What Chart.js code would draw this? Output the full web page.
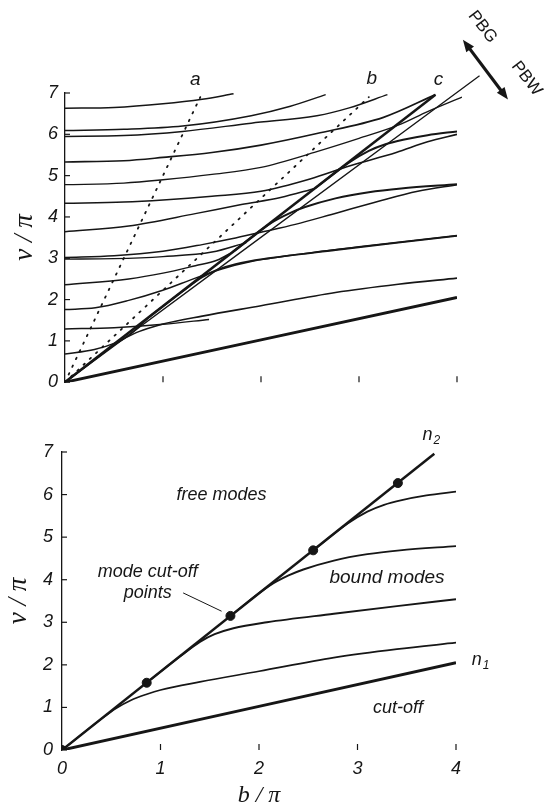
<!DOCTYPE html>
<html>
<head>
<meta charset="utf-8">
<script src="https://cdn.jsdelivr.net/npm/chart.js@4.4.0/dist/chart.umd.min.js"></script>
<style>
  html, body { margin: 0; padding: 0; background: #fff; }
  #wrap { position: relative; width: 545px; height: 810px; }
  #topChart { position: absolute; left: 0; top: 0; }
  #bottomChart { position: absolute; left: 0; top: 400px; }
</style>
</head>
<body>
<div id="wrap">
  <canvas id="topChart" width="545" height="400"></canvas>
  <canvas id="bottomChart" width="545" height="410"></canvas>
</div>
<script>
(function () {
  // === Data (b/pi on x, v/pi on y) ===
  const xTicks = [0, 1, 2, 3, 4];
  const yTicks = [0, 1, 2, 3, 4, 5, 6, 7];

  // guide c: n1 and n2 lines, PBG/PBW boundary, dotted n2 lines of guides a and b
  const n1Line = [[0, 0], [4, 2.05]];
  const n2Line = [[0, 0], [3.78, 6.96]];
  const pbgLine = [[0, 0], [4.23, 7.42]];
  const dotA = [[0, 0], [1.38, 6.9]];
  const dotB = [[0, 0], [3.1, 6.9]];

  // bound modes of guide c
  const mode1 = [[0, 0], [0.4, 0.73], [0.55, 0.98], [0.7, 1.17], [0.86, 1.31], [1.0, 1.41], [1.4, 1.6], [2.0, 1.85], [2.76, 2.17], [3.4, 2.37], [4, 2.52]];
  const mode2 = [[0.86, 1.58], [1.2, 2.2], [1.4, 2.54], [1.55, 2.72], [1.74, 2.86], [2.08, 3.0], [2.76, 3.2], [3.4, 3.38], [4, 3.54]];
  const mode3 = [[1.71, 3.15], [2.1, 3.85], [2.3, 4.1], [2.45, 4.24], [2.76, 4.45], [3.1, 4.6], [3.43, 4.69], [4, 4.79]];
  const mode4 = [[2.55, 4.69], [2.9, 5.32], [3.1, 5.6], [3.27, 5.76], [3.45, 5.87], [3.7, 5.98], [4, 6.07]];
  const cutOffPts = [[0, 0], [0.86, 1.58], [1.71, 3.15], [2.55, 4.69], [3.41, 6.27]];

  // extra curves of the upper plot
  const T1 = [[0, 6.63], [0.5, 6.65], [1.0, 6.74], [1.4, 6.85], [1.72, 6.98]];
  const T2 = [[0, 6.09], [0.6, 6.12], [1.2, 6.2], [1.9, 6.45], [2.3, 6.68], [2.66, 6.96]];
  const T3 = [[0, 5.95], [0.6, 5.97], [1.2, 6.07], [1.9, 6.27], [2.57, 6.45], [2.9, 6.64], [3.29, 6.96]];
  const J5 = [[0, 5.33], [0.6, 5.36], [1.0, 5.44], [1.5, 5.56], [2.0, 5.74], [2.57, 6.02], [3.25, 6.41], [3.78, 6.96]];
  const J4 = [[0, 4.78], [0.6, 4.82], [1.0, 4.9], [1.5, 5.03], [2.0, 5.2], [2.57, 5.58], [3.0, 5.9], [3.4, 6.22], [3.7, 6.55], [4.05, 6.9]];
  const K4 = [[0, 4.33], [0.6, 4.36], [1.0, 4.41], [1.5, 4.5], [2.0, 4.62], [2.5, 4.92], [2.91, 5.24], [3.38, 5.56], [3.7, 5.82], [4, 6.0]];
  const J3 = [[0, 3.64], [0.65, 3.78], [1.33, 4.08], [1.8, 4.3], [2.2, 4.47], [2.55, 4.69]];
  const L3a = [[0, 3.02], [0.5, 3.06], [1.0, 3.17], [1.4, 3.33], [1.7, 3.47], [2.0, 3.63], [2.35, 3.82], [2.72, 4.06], [3.2, 4.38], [3.6, 4.62], [4, 4.78]];
  const L3b = [[0, 2.98], [0.5, 2.99], [1.0, 3.04], [1.5, 3.15], [1.85, 3.38]];
  const J2 = [[0, 2.36], [0.65, 2.5], [1.0, 2.64], [1.33, 2.82], [1.55, 2.95], [1.71, 3.15]];
  const K2 = [[0, 1.76], [0.31, 1.8], [0.65, 1.98], [0.99, 2.22], [1.33, 2.52], [1.6, 2.74], [1.9, 2.92], [2.4, 3.1], [3.0, 3.28], [4, 3.55]];
  const K1 = [[0, 1.29], [0.5, 1.32], [1.0, 1.4], [1.47, 1.52]];
  const J1 = [[0, 0.68], [0.3, 0.79], [0.5, 0.94], [0.65, 1.13], [0.86, 1.58]];

  // === Helpers ===
  const ink = "#161616";
  const sans = '"Liberation Sans", Arial, sans-serif';
  const serif = '"Liberation Serif", "Times New Roman", serif';

  const pts = arr => arr.map(p => ({ x: p[0], y: p[1] }));
  const curve = (arr, w, extra) => Object.assign({
    data: pts(arr), showLine: true, borderColor: ink, backgroundColor: ink,
    borderWidth: w, pointRadius: 0, cubicInterpolationMode: "monotone", fill: false
  }, extra || {});
  const dotted = arr => curve(arr, 1.8, { borderDash: [1.5, 7], borderCapStyle: "round" });

  // small ticks drawn inside the plot
  const innerTicks = {
    id: "innerTicks",
    afterDraw(chart, args, o) {
      const { ctx, scales: { x, y } } = chart;
      ctx.save();
      ctx.strokeStyle = ink; ctx.lineWidth = 1.2;
      yTicks.forEach(v => {
        const py = y.getPixelForValue(v);
        ctx.beginPath(); ctx.moveTo(x.left, py); ctx.lineTo(x.left + 5, py); ctx.stroke();
      });
      xTicks.slice(1).forEach(v => {
        const px = x.getPixelForValue(v);
        ctx.beginPath(); ctx.moveTo(px, y.bottom); ctx.lineTo(px, y.bottom - 6); ctx.stroke();
      });
      ctx.restore();
    }
  };

  // text notes and arrow placed in data coordinates
  const notes = {
    id: "notes",
    afterDatasetsDraw(chart, args, o) {
      const { ctx, scales: { x, y } } = chart;
      ctx.save();
      ctx.fillStyle = ink; ctx.strokeStyle = ink;
      (o.items || []).forEach(n => {
        ctx.save();
        ctx.translate(x.getPixelForValue(n.x), y.getPixelForValue(n.y));
        if (n.rot) ctx.rotate(n.rot * Math.PI / 180);
        ctx.font = n.font || ("italic 18px " + sans);
        ctx.textBaseline = "middle";
        if (n.sub) {
          const w = ctx.measureText(n.text).width;
          ctx.textAlign = "left";
          ctx.fillText(n.text, -w / 2 - 3, 0);
          ctx.font = "italic 12px " + sans;
          ctx.fillText(n.sub, w / 2 - 2, 5);
        } else {
          ctx.textAlign = "center";
          ctx.fillText(n.text, 0, 0);
        }
        ctx.restore();
      });
      if (o.arrow) {
        const [a, b] = o.arrow;
        const x1 = x.getPixelForValue(a[0]), y1 = y.getPixelForValue(a[1]);
        const x2 = x.getPixelForValue(b[0]), y2 = y.getPixelForValue(b[1]);
        const ang = Math.atan2(y2 - y1, x2 - x1), h = 13;
        ctx.lineWidth = 3.2;
        ctx.beginPath();
        ctx.moveTo(x1 + Math.cos(ang) * 8, y1 + Math.sin(ang) * 8);
        ctx.lineTo(x2 - Math.cos(ang) * 8, y2 - Math.sin(ang) * 8);
        ctx.stroke();
        [[x2, y2, ang], [x1, y1, ang + Math.PI]].forEach(([px, py, t]) => {
          ctx.beginPath();
          ctx.moveTo(px, py);
          ctx.lineTo(px - h * Math.cos(t - 0.38), py - h * Math.sin(t - 0.38));
          ctx.lineTo(px - h * Math.cos(t + 0.38), py - h * Math.sin(t + 0.38));
          ctx.closePath(); ctx.fill();
        });
      }
      ctx.restore();
    }
  };

  const tickFont = { family: sans, size: 18, style: "italic" };
  const scales = (o) => ({
    x: {
      type: "linear", min: 0, max: 4,
      afterFit: s => { s.height = o.xh; },
      grid: { display: false, drawTicks: false }, border: { display: false },
      ticks: { display: o.xLabels, stepSize: 1, padding: 8, color: ink, font: tickFont, maxRotation: 0 },
      title: { display: o.xLabels, text: "b / π", color: ink, padding: { top: 0, bottom: 0 },
        font: { family: serif, size: 24, style: "italic" } }
    },
    y: {
      type: "linear", min: 0, max: 7,
      afterFit: s => { s.width = o.yw; },
      grid: { display: false, drawTicks: false }, border: { display: true, color: ink, width: 1.3 },
      ticks: { stepSize: 1, padding: o.yPad, color: ink, font: tickFont },
      title: { display: true, text: "v / π", color: ink, padding: { top: o.titlePad, bottom: 0 },
        font: { family: serif, size: 27, style: "italic" } }
    }
  });

  const common = {
    responsive: false, maintainAspectRatio: false, animation: false, devicePixelRatio: 1, events: []
  };

  // === Upper plot ===
  new Chart(document.getElementById("topChart"), {
    type: "scatter",
    data: {
      datasets: [
        dotted(dotA), dotted(dotB),
        curve(pbgLine, 1.3, { clip: false }),
        curve(n1Line, 3), curve(n2Line, 2.5),
        curve(mode1, 1.6), curve(mode2, 1.8), curve(mode3, 2), curve(mode4, 2),
        curve(T1, 1.5), curve(T2, 1.5), curve(T3, 1.5), curve(J5, 1.7),
        curve(J4, 1.3, { clip: false }), curve(K4, 1.6), curve(J3, 1.5),
        curve(L3a, 1.5), curve(L3b, 1.4), curve(J2, 1.5), curve(K2, 1.5),
        curve(K1, 1.5), curve(J1, 1.5)
      ]
    },
    options: Object.assign({}, common, {
      layout: { padding: { top: 93, right: 88, left: 0, bottom: 0 } },
      scales: scales({ xh: 8, yw: 65, xLabels: false, yPad: 7, titlePad: 9 }),
      plugins: {
        legend: { display: false }, tooltip: { enabled: false },
        notes: {
          items: [
            { text: "a", x: 1.33, y: 7.31, font: "italic 19px " + sans },
            { text: "b", x: 3.13, y: 7.35, font: "italic 19px " + sans },
            { text: "c", x: 3.81, y: 7.31, font: "italic 19px " + sans },
            { text: "PBG", x: 4.26, y: 8.6, rot: 52, font: "17px " + sans },
            { text: "PBW", x: 4.71, y: 7.35, rot: 52, font: "17px " + sans }
          ],
          arrow: [[4.06, 8.29], [4.52, 6.84]]
        }
      }
    }),
    plugins: [innerTicks, notes]
  });

  // === Lower plot ===
  new Chart(document.getElementById("bottomChart"), {
    type: "scatter",
    data: {
      datasets: [
        curve(n1Line, 3), curve(n2Line, 2.5),
        curve(mode1, 1.7), curve(mode2, 1.9), curve(mode3, 1.9), curve(mode4, 1.8),
        curve([[1.23, 3.69], [1.62, 3.26]], 1),
        { data: pts(cutOffPts), showLine: false, pointRadius: 4.5, pointBackgroundColor: ink, pointBorderColor: ink }
      ]
    },
    options: Object.assign({}, common, {
      layout: { padding: { top: 52, right: 89, left: 0, bottom: 0 } },
      scales: scales({ xh: 60, yw: 62, xLabels: true, yPad: 9, titlePad: 3 }),
      plugins: {
        legend: { display: false }, tooltip: { enabled: false },
        notes: {
          items: [
            { text: "free modes", x: 1.62, y: 5.99 },
            { text: "mode cut-off", x: 0.87, y: 4.18 },
            { text: "points", x: 0.87, y: 3.69 },
            { text: "bound modes", x: 3.30, y: 4.04, font: "italic 19px " + sans },
            { text: "cut-off", x: 3.41, y: 0.99 },
            { text: "n", sub: "2", x: 3.74, y: 7.39 },
            { text: "n", sub: "1", x: 4.24, y: 2.11 }
          ]
        }
      }
    }),
    plugins: [innerTicks, notes]
  });
})();
</script>
</body>
</html>
